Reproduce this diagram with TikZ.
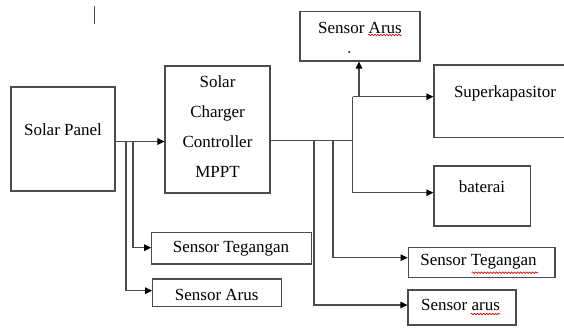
\documentclass[tikz,border=0pt]{standalone}
\usepackage{fontspec}
\setmainfont{Liberation Serif}
\newfontfamily\tnr{Liberation Serif}
\usetikzlibrary{arrows.meta,decorations.pathmorphing}
\begin{document}
\begin{tikzpicture}[x=1pt,y=-1pt,
  ln/.style={line width=1.2pt,draw=black!70},
  arr/.style={ln,-{Triangle[length=7pt,width=6.5pt,fill=black,color=black]}},
  box/.style={draw=black!70,line width=1.2pt,rectangle,inner sep=0pt},
  lbl/.style={inner sep=0pt,font=\tnr\fontsize{17}{30}\selectfont,text=black,align=center},
  wavy/.style={draw=red!85!black,line width=0.6pt,decorate,decoration={snake,segment length=3pt,amplitude=0.8pt}}]
\useasboundingbox (0,0) rectangle (564,327);
\clip (0,0) rectangle (564,327);
% boxes
\node[box,minimum width=104pt,minimum height=104pt] (sp) at (63,139) {};
\node[box,minimum width=105pt,minimum height=127pt] (scc) at (217.5,129.5) {};
\node[box,minimum width=120pt,minimum height=49.3pt] (sat) at (360,36.35) {};
\node[box,minimum width=146pt,minimum height=72.7pt] (sk) at (507,101.35) {};
\node[box,minimum width=96.7pt,minimum height=60pt] (bat) at (482.35,196) {};
\node[box,minimum width=146.7pt,minimum height=30.4pt] (stR) at (481.65,262.5) {};
\node[box,minimum width=108pt,minimum height=35pt] (saR) at (462,307.5) {};
\node[box,minimum width=160pt,minimum height=31.3pt] (stL) at (231.7,248.35) {};
\node[box,minimum width=129pt,minimum height=27.7pt] (saL) at (217.2,292.85) {};
% labels
\node[lbl] (tsp) at (63,130) {Solar Panel};
\node[lbl] (tscc) at (217.5,126.5) {Solar\\Charger\\Controller\\MPPT};
\node[lbl] (tsat) at (360,28) {Sensor Arus};
\node[circle,fill=black,inner sep=0pt,minimum size=2pt] (dot) at (349,52) {};
\node[lbl] (tsk) at (505,93) {Superkapasitor};
\node[lbl] (tbat) at (482,187) {baterai};
\node[lbl] (tstR) at (478.5,262) {Sensor Tegangan};
\node[lbl] (tsaR) at (460.5,305) {Sensor arus};
\node[lbl] (tstL) at (231,249) {Sensor Tegangan};
\node[lbl] (tsaL) at (216.7,295) {Sensor Arus};
% spell-check marks
\draw[wavy] (368,35) -- (401.7,35);
\draw[wavy] (471.7,272.7) -- (538,272.7);
\draw[wavy] (470.7,314) -- (500,314);
% cursor
\draw[ln,line width=1pt] (94,6) -- (94,24);
% junction coordinates
\coordinate (j0) at (120,141.5);
\coordinate (jL1) at (126,141.5);
\coordinate (jL2) at (133,141.5);
\coordinate (kL1) at (126,290.7);
\coordinate (kL2) at (133,247.7);
\coordinate (jR0) at (352.5,140.5);
\coordinate (jR1) at (314,140.5);
\coordinate (jR2) at (333,140.5);
\coordinate (kR1) at (314,305);
\coordinate (kR2) at (333,257.7);
\coordinate (jS) at (352.5,96.7);
\coordinate (jB) at (352.5,192.7);
\coordinate (jA) at (359,96.7);
% connectors
\draw[arr] (sp.east |- j0) -- (scc.west |- j0);
\draw[arr] (jL1) -- (kL1) -- (saL.west |- kL1);
\draw[arr] (jL2) -- (kL2) -- (stL.west |- kL2);
\draw[ln] (scc.east |- jR0) -- (jR0);
\draw[ln] ([yshift=-1.5pt]jR1) -- (jR1);
\draw[arr] (jR1) -- (kR1) -- (saR.west |- kR1);
\draw[arr] (jR2) -- (kR2) -- (stR.west |- kR2);
\draw[ln] (jS) -- (jB);
\draw[arr] (jS) -- (sk.west |- jS);
\draw[arr] (jB) -- (bat.west |- jB);
\draw[arr] (jA) -- (sat.south -| jA);
\end{tikzpicture}
\end{document}
